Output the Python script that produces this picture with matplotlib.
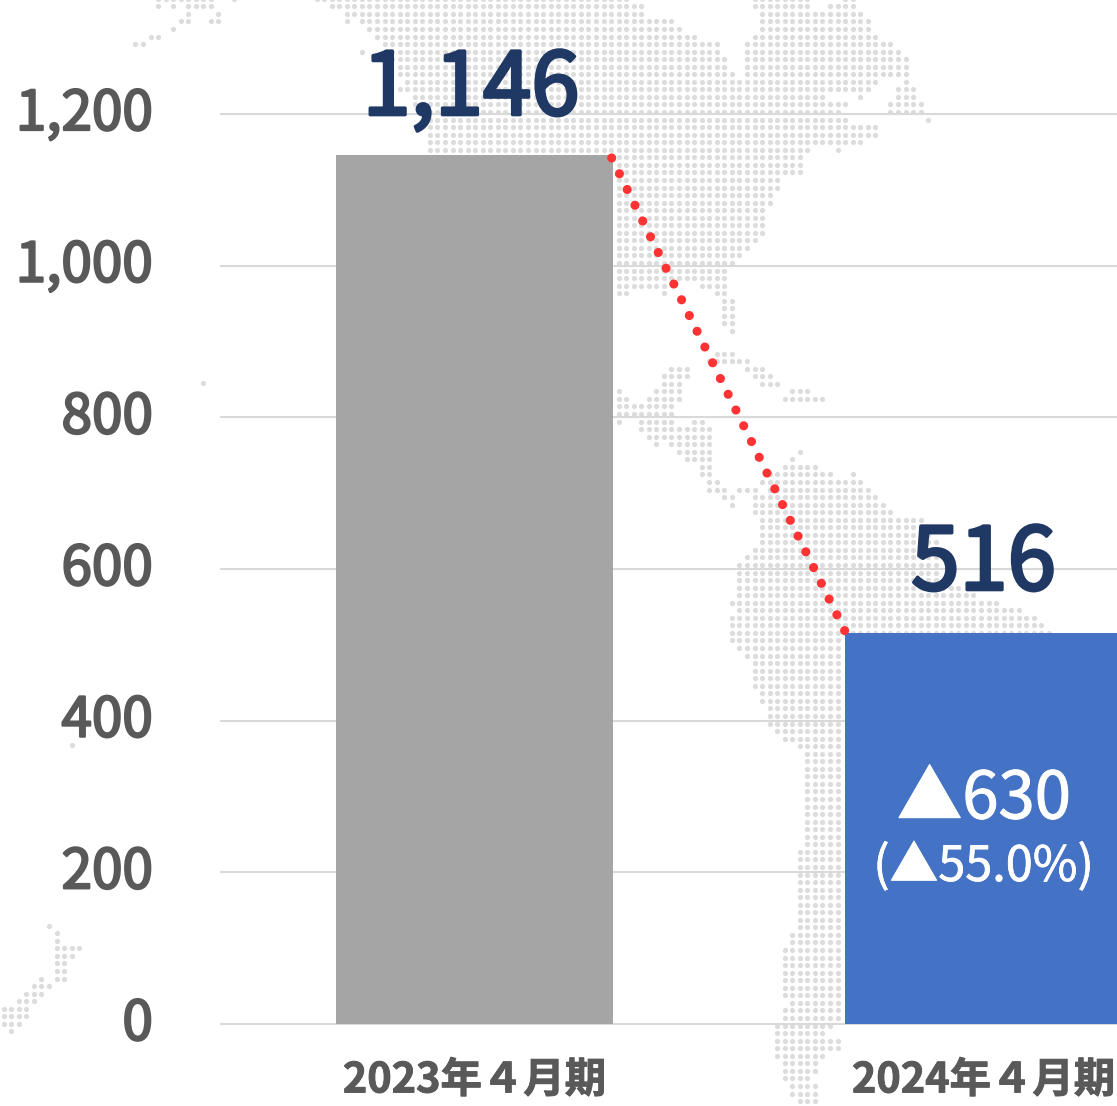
import numpy as np
import matplotlib
matplotlib.use("Agg")
import matplotlib.pyplot as plt
import matplotlib.patheffects as pe
from matplotlib.transforms import ScaledTranslation

# ---------- chart data ----------
categories = ["2023年４月期", "2024年４月期"]
values = [1146, 516]
bar_colors = ["#A5A5A5", "#4472C4"]
y_ticks = [0, 200, 400, 600, 800, 1000, 1200]
y_tick_labels = ["0", "200", "400", "600", "800", "1,000", "1,200"]
value_labels = ["1,146", "516"]
change_label = "▲630"
change_pct_label = "(▲55.0%)"
connector_y = [1142, 517]

# ---------- decorative dot map: row -> (first col, last col) spans ----------
americas_rows = {
    -1: [(-38, 3), (20, 27), (32, 33)], 0: [(-36, 5), (20, 27), (30, 33)],
    1: [(-34, 5), (21, 34)], 2: [(-34, -34), (-32, 9), (21, 35)], 3: [(-31, 10), (21, 35)],
    4: [(-30, 12), (20, 36)], 5: [(-29, 15), (19, 38)], 6: [(-32, -32), (-29, 15), (19, 39)],
    7: [(-28, 16), (19, 40)], 8: [(-27, 16), (19, 40)], 9: [(-27, 17), (19, 40)],
    10: [(-26, 36), (40, 40)], 11: [(-27, 35), (39, 41)], 12: [(-25, 29), (34, 34), (39, 41)],
    13: [(-25, 32), (38, 42)], 14: [(-24, 31), (38, 42)], 15: [(-23, 32), (43, 43)],
    16: [(-23, 36)], 17: [(-23, 36)], 18: [(-23, 34)], 19: [(-23, 27), (31, 31)],
    20: [(2, 26)], 21: [(2, 26)], 22: [(2, 26)], 23: [(2, 23)], 24: [(2, 23)], 25: [(2, 22)],
    26: [(2, 22)], 27: [(2, 21)], 28: [(2, 21)], 29: [(2, 21)], 30: [(2, 21)], 31: [(2, 20)],
    32: [(2, 19)], 33: [(2, 18)], 34: [(2, 17)], 35: [(2, 16)], 36: [(2, 16)],
    37: [(2, 8), (13, 16)], 38: [(2, 3), (8, 8), (15, 16)], 39: [(16, 17)], 40: [(16, 17)],
    41: [(16, 17)], 42: [(16, 17)], 43: [(17, 17)], 46: [(15, 17)], 47: [(14, 19)],
    48: [(9, 11), (19, 21)], 49: [(8, 11), (20, 22)], 50: [(8, 10), (21, 23)],
    51: [(2, 2), (7, 10), (25, 27)], 52: [(2, 3), (6, 10), (24, 29)], 53: [(2, 9)], 54: [(2, 9)],
    55: [(2, 2), (5, 9), (12, 13)], 56: [(5, 14)], 57: [(6, 14)], 58: [(7, 7), (9, 14)],
    59: [(10, 14), (26, 26)], 60: [(11, 14), (25, 25)], 61: [(13, 14), (24, 28)],
    62: [(13, 14), (22, 30), (33, 33)], 63: [(14, 15), (21, 34)],
    64: [(14, 16), (18, 20), (22, 35)], 65: [(16, 17), (20, 36)], 66: [(17, 17), (20, 37)],
    67: [(20, 38)], 68: [(21, 42)], 69: [(21, 42)], 70: [(21, 43)], 71: [(21, 44)],
    72: [(20, 44)], 73: [(19, 44)], 74: [(18, 44)], 75: [(18, 44)], 76: [(18, 44)],
    77: [(18, 47)], 78: [(18, 49)], 79: [(17, 52)], 80: [(18, 55)], 81: [(17, 57)],
    82: [(17, 58)], 83: [(17, 59)], 84: [(17, 31)], 85: [(18, 31)], 86: [(19, 31)],
    87: [(20, 31)], 88: [(20, 31)], 89: [(20, 31)], 90: [(20, 31)], 91: [(21, 31)],
    92: [(21, 31)], 93: [(22, 31)], 94: [(22, 31)], 95: [(22, 31)], 96: [(23, 31)],
    97: [(24, 31)], 98: [(26, 31)], 99: [(27, 31)], 100: [(27, 31)], 101: [(27, 31)],
    102: [(27, 31)], 103: [(27, 31)], 104: [(27, 31)], 105: [(27, 31)], 106: [(27, 31)],
    107: [(27, 31)], 108: [(27, 31)], 109: [(27, 31)], 110: [(27, 31)], 111: [(27, 31)],
    112: [(26, 31)], 113: [(26, 31)], 114: [(26, 31)], 115: [(26, 31)], 116: [(26, 31)],
    117: [(26, 31)], 118: [(26, 31)], 119: [(26, 31)], 120: [(26, 31)], 121: [(26, 31)],
    122: [(26, 31)], 123: [(25, 31)], 124: [(25, 31)], 125: [(24, 31)], 126: [(24, 31)],
    127: [(24, 31)], 128: [(24, 31)], 129: [(24, 31)], 130: [(24, 31)], 131: [(24, 31)],
    132: [(25, 31)], 133: [(24, 31)], 134: [(24, 31)], 135: [(23, 30)], 136: [(23, 29)],
    137: [(23, 31)], 138: [(23, 31)], 139: [(23, 29)], 140: [(24, 28)], 141: [(24, 28)],
    142: [(24, 27)], 143: [(25, 28)], 144: [(25, 28)], 145: [(26, 28)], 146: [(27, 30)],
}
arctic_rows = {
    -1: [(-59, -52), (-49, -49)], 0: [(-59, -59), (-57, -57), (-55, -52)],
    1: [(-55, -55), (-51, -51)], 2: [(-56, -55), (-52, -51)], 3: [(-57, -57)],
    4: [(-60, -59)], 5: [(-62, -61)],
}
nz_rows = {
    0: [(6, 6)], 1: [(7, 7)], 2: [(7, 7)], 3: [(7, 10)], 4: [(7, 9)], 5: [(7, 8)], 6: [(7, 8)],
    7: [(5, 5), (7, 8)], 8: [(4, 6)], 9: [(3, 5)], 10: [(2, 4)], 11: [(0, 3)], 12: [(0, 3)],
    13: [(0, 2)], 14: [(1, 1)],
}
stray_dot_x = [203.3, 71.7]
stray_dot_y = [383.0, 745.0]

STEP = 7.55
DOT = "#DCDCDC"


def expand(rows, x0, y0):
    xs, ys = [], []
    for r, spans in rows.items():
        for a, b in spans:
            for c in range(a, b + 1):
                xs.append(x0 + STEP * c)
                ys.append(y0 + STEP * r)
    return xs, ys


def heavier(width, color):
    return [pe.withStroke(linewidth=width, foreground=color)]


W, H = 1117, 1106
plt.rcParams['font.family'] = ['Noto Sans CJK JP', 'DejaVu Sans']
fig = plt.figure(figsize=(W / 100, H / 100), dpi=100, facecolor="white")

# background map in pixel coordinates
bg = fig.add_axes([0, 0, 1, 1], zorder=0)
bg.set_xlim(0, W)
bg.set_ylim(H, 0)
bg.axis("off")
for rows, x0, y0 in [(americas_rows, 603.5, 6.3), (arctic_rows, 603.5, 6.3), (nz_rows, 3.7, 925.7)]:
    xs, ys = expand(rows, x0, y0)
    bg.scatter(xs, ys, s=14, color=DOT, linewidths=0)
bg.scatter(stray_dot_x, stray_dot_y, s=14, color=DOT, linewidths=0)

# main chart: x unit = 509 px, axes runs past the right edge of the figure
left, right, bottom = 221, 1238, 1024
ax = fig.add_axes([left / W, (H - bottom) / H, (right - left) / W, bottom / H], zorder=1)
ax.patch.set_alpha(0)
ax.set_xlim(-0.498, 1.5)
ax.set_ylim(0, bottom / (910 / 1200))
for s in ax.spines.values():
    s.set_visible(False)

x = np.arange(len(categories))
ax.bar(x, values, width=0.5442, color=bar_colors, zorder=3)
ax.set_axisbelow(True)
ax.set_yticks(y_ticks, y_tick_labels)
ax.set_xticks(x, categories)
ax.yaxis.grid(True, color="#D9D9D9", linewidth=1.5)
for line in ax.get_ygridlines():
    line.set_clip_on(False)
ax.tick_params(axis="y", length=0, pad=49, labelsize=39.5, labelcolor="#595959")
ax.tick_params(axis="x", length=0, pad=25.5, labelsize=29.8, labelcolor="#595959")
for lbl in ax.get_xticklabels():
    lbl.set_fontweight("bold")
    lbl.set_path_effects(heavier(0.7, "#595959"))
up = ScaledTranslation(0, 4.5 / 72, fig.dpi_scale_trans)
for lbl in ax.get_yticklabels():
    lbl.set_transform(lbl.get_transform() + up)
    lbl.set_path_effects(heavier(1.6, "#595959"))

# connector between the bars
ax.plot([0.2695, 0.7285], connector_y, color="#FF3333", lw=6.6,
        linestyle=(0, (0.001, 1.915)), dash_capstyle="round", zorder=5, clip_on=False)

# value labels
for xi, v, t, off in zip(x, values, value_labels, [(-2.5, 29), (0, 31)]):
    ax.annotate(t, (xi, v), xytext=off, textcoords="offset points", ha="center", va="baseline",
                fontsize=62.5, color="#1F3864", zorder=6,
                path_effects=heavier(2.4, "#1F3864"))

# change labels inside the second bar
ax.annotate(change_label, (1, 0), xytext=(0.3, 148), textcoords="offset points", ha="center",
            va="baseline", fontsize=47, color="white", zorder=6,
            path_effects=heavier(0.8, "white"))
ax.annotate(change_pct_label, (1, 0), xytext=(0, 103), textcoords="offset points", ha="center",
            va="baseline", fontsize=35, color="white", zorder=6,
            path_effects=heavier(0.5, "white"))

fig.savefig("out.png", dpi=100, facecolor="white")
